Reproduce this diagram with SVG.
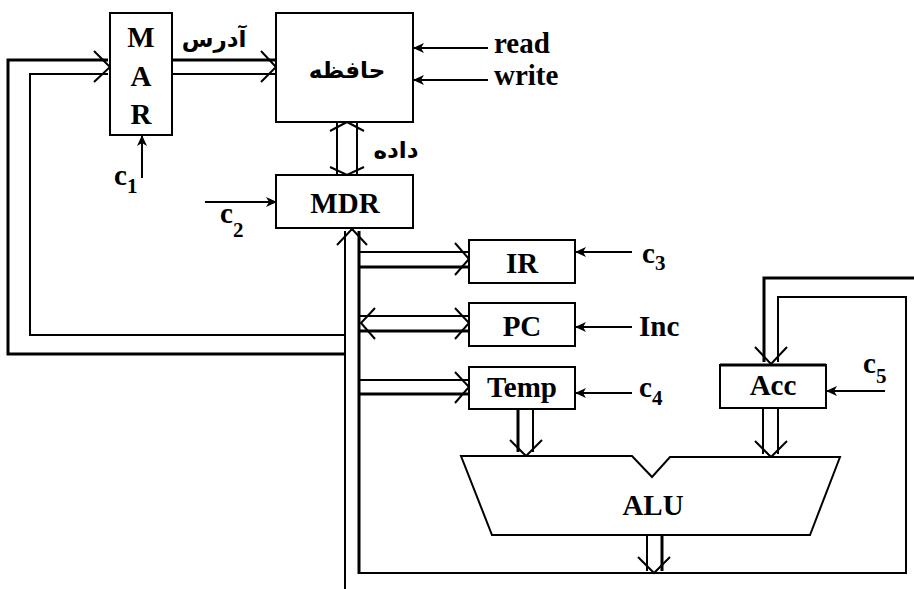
<svg xmlns="http://www.w3.org/2000/svg" width="914" height="589" viewBox="0 0 914 589">
<style>
.box{fill:#fff;stroke:#000;stroke-width:2}
.t{font-family:"Liberation Serif","Times New Roman",serif;font-weight:bold;font-size:29px;fill:#000}
.fa{font-family:"DejaVu Sans",sans-serif;font-weight:bold;font-size:23px;fill:#000}
.sub{font-size:21px}
.w{fill:none;stroke:#000;stroke-width:2}
.k{fill:none;stroke:#000;stroke-width:3}
.s{fill:none;stroke:#000;stroke-width:2;marker-end:url(#ah)}
</style>
<defs>
<marker id="ah" markerUnits="userSpaceOnUse" markerWidth="11" markerHeight="10" refX="10" refY="5" orient="auto">
<path d="M0,0 L11,5 L0,10 L3,5 z" fill="#000"/>
</marker>
</defs>
<rect width="914" height="589" fill="#fff"/>
<g id="connectors">
<!-- left feedback bus to MAR -->
<polyline class="k" points="108,60 8,60 8,354 345,354"/>
<polyline class="w" points="108,74 30,74 30,335 345,335"/>
<polyline class="w" points="94,51 110,67 94,82"/>
<!-- MAR to memory (address) -->
<line class="k" x1="172" y1="60" x2="275" y2="60"/>
<line class="w" x1="172" y1="74" x2="275" y2="74"/>
<polyline class="w" points="261,51 276,67 261,82"/>
<!-- data bus memory <-> MDR -->
<line class="w" x1="337" y1="123" x2="337" y2="175"/>
<line class="w" x1="357" y1="123" x2="357" y2="175"/>
<polyline class="w" points="330,131 347,122 364,131"/>
<polyline class="w" points="330,167 347,175 364,167"/>
<!-- main vertical bus -->
<line class="w" x1="345" y1="231" x2="345" y2="589"/>
<line class="k" x1="359" y1="231" x2="359" y2="574"/>
<polyline class="w" points="359,573 906,573 906,297 778,297 778,362"/>
<polyline class="w" points="337,245 352,229 367,245"/>
<!-- bus to IR -->
<line class="w" x1="359" y1="252" x2="468" y2="252"/>
<line class="k" x1="359" y1="267" x2="468" y2="267"/>
<polyline class="w" points="455,243 469,259 455,275"/>
<!-- bus <-> PC -->
<line class="w" x1="360" y1="316" x2="468" y2="316"/>
<line class="k" x1="360" y1="331" x2="468" y2="331"/>
<polyline class="w" points="455,308 469,323 455,339"/>
<polyline class="w" points="375,308 361,323 375,339"/>
<!-- bus to Temp -->
<line class="w" x1="359" y1="380" x2="468" y2="380"/>
<line class="k" x1="359" y1="394" x2="468" y2="394"/>
<polyline class="w" points="455,372 469,387 455,403"/>
<!-- Temp to ALU -->
<line class="k" x1="518" y1="409" x2="518" y2="452"/>
<line class="w" x1="533" y1="409" x2="533" y2="452"/>
<polyline class="w" points="510,440 526,456 542,440"/>
<!-- Acc to ALU -->
<line class="w" x1="763" y1="408" x2="763" y2="454"/>
<line class="w" x1="778" y1="408" x2="778" y2="454"/>
<polyline class="w" points="755,441 771,457 787,441"/>
<!-- ALU output -->
<line class="w" x1="647" y1="535" x2="647" y2="571"/>
<line class="k" x1="662" y1="535" x2="662" y2="571"/>
<polyline class="w" points="638,557 654,573 670,557"/>
<!-- feedback into Acc -->
<polyline class="k" points="914,278 764,278 764,362"/>
<polyline class="w" points="755,347 771,364 787,347"/>
<!-- control signals -->
<line class="s" x1="488" y1="48" x2="414" y2="48"/>
<line class="s" x1="488" y1="80" x2="414" y2="80"/>
<line class="s" x1="142" y1="178" x2="142" y2="136"/>
<line class="s" x1="205" y1="202" x2="276" y2="202"/>
<line class="s" x1="632" y1="252" x2="576" y2="252"/>
<line class="s" x1="632" y1="327" x2="576" y2="327"/>
<line class="s" x1="632" y1="393" x2="576" y2="393"/>
<line class="s" x1="885" y1="391" x2="827" y2="391"/>
</g>
<g id="MAR">
<rect class="box" x="110" y="13" width="62" height="122"/>
<text class="t" x="141" y="47" text-anchor="middle">M</text>
<text class="t" x="141" y="86" text-anchor="middle">A</text>
<text class="t" x="141" y="124" text-anchor="middle">R</text>
</g>
<g id="memory">
<rect class="box" x="276" y="13" width="137" height="109"/>
<text class="fa" x="347" y="78" text-anchor="middle">حافظه</text>
</g>
<g id="MDR">
<rect class="box" x="276" y="175" width="137" height="53"/>
<text class="t" x="345" y="213" text-anchor="middle">MDR</text>
</g>
<g id="IR">
<rect class="box" x="469" y="240" width="106" height="43"/>
<text class="t" x="522" y="273" text-anchor="middle">IR</text>
</g>
<g id="PC">
<rect class="box" x="469" y="303" width="106" height="43"/>
<text class="t" x="522" y="336" text-anchor="middle">PC</text>
</g>
<g id="Temp">
<rect class="box" x="469" y="367" width="106" height="42"/>
<text class="t" x="522" y="397" text-anchor="middle">Temp</text>
</g>
<g id="Acc">
<rect class="box" x="720" y="365" width="106" height="43"/>
<line class="k" x1="720" y1="365" x2="826" y2="365"/>
<text class="t" x="773" y="395" text-anchor="middle">Acc</text>
</g>
<g id="ALU">
<polygon class="box" points="461,456 632,456 652,477 670,457 840,457 810,535 492,535"/>
<text class="t" x="653" y="515" text-anchor="middle">ALU</text>
</g>
<g id="labels">
<text class="fa" x="214" y="47" text-anchor="middle">آدرس</text>
<text class="fa" x="396" y="158" text-anchor="middle">داده</text>
<text class="t" x="494" y="53">read</text>
<text class="t" x="494" y="85">write</text>
<text class="t" x="639" y="336">Inc</text>
<text class="t" x="114" y="185">c<tspan class="sub" dy="8">1</tspan></text>
<text class="t" x="220" y="223">c<tspan class="sub" dy="14">2</tspan></text>
<text class="t" x="642" y="263">c<tspan class="sub" dy="7">3</tspan></text>
<text class="t" x="639" y="397">c<tspan class="sub" dy="8">4</tspan></text>
<text class="t" x="863" y="373">c<tspan class="sub" dy="10">5</tspan></text>
</g>
</svg>
